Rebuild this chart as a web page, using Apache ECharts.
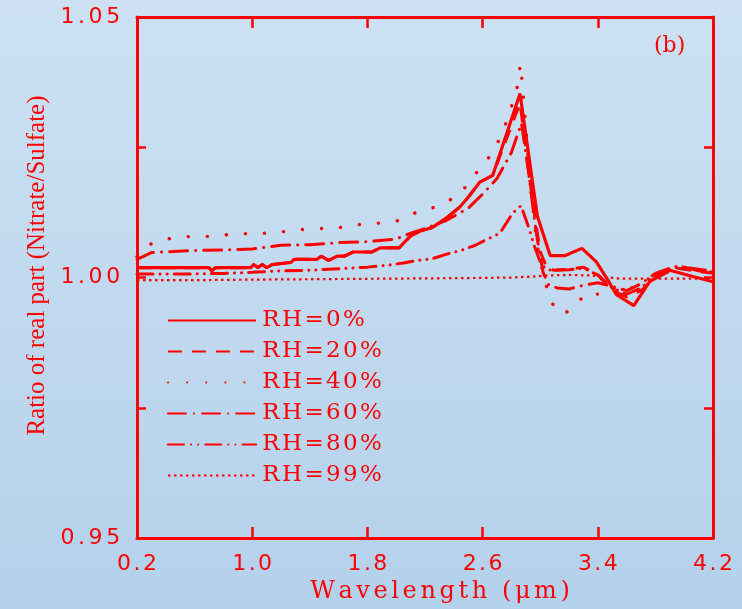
<!DOCTYPE html>
<html>
<head>
<meta charset="utf-8">
<script src="https://cdn.jsdelivr.net/npm/echarts@6/dist/echarts.min.js"></script>
<style>html,body{margin:0;padding:0;}#c{width:742px;height:609px;}</style>
</head>
<body>
<div id="c"></div>
<script>
const seriesNames = ['RH=0%','RH=20%','RH=40%','RH=60%','RH=80%','RH=99%'];
const xTicks = [0.2, 1.0, 1.8, 2.6, 3.4, 4.2];
const yTicks = [0.95, 0.975, 1.0, 1.025, 1.05];
const yLabels = [0.95, 1.0, 1.05];

const rh0X = [0.2,0.7,0.72,0.745,0.99,1.01,1.04,1.07,1.1,1.14,1.27,1.29,1.45,1.48,1.53,1.59,1.64,1.70,1.83,1.89,2.02,2.10,2.165,2.25,2.30,2.37,2.44,2.50,2.58,2.67,2.86,2.98,3.07,3.17,3.29,3.39,3.47,3.53,3.65,3.76,3.90,4.06,4.2];
const rh0Y = [1.0019,1.0019,1.0013,1.0019,1.0019,1.0025,1.0019,1.0025,1.0019,1.0025,1.0029,1.0035,1.0035,1.0041,1.0033,1.0041,1.0041,1.0049,1.0049,1.0057,1.0057,1.008,1.0089,1.0096,1.0105,1.0119,1.0135,1.0154,1.0183,1.0196,1.0353,1.0118,1.0042,1.0042,1.0056,1.003,0.9995,0.9967,0.9946,0.9992,1.0014,1.0002,0.9992];

const rh20X = [0.2,0.7,0.72,0.745,0.99,1.01,1.04,1.07,1.1,1.14,1.27,1.29,1.45,1.48,1.53,1.59,1.64,1.70,1.83,1.89,2.02,2.10,2.165,2.25,2.30,2.37,2.44,2.50,2.58,2.67,2.86,2.95,3.0,3.05,3.1,3.2,3.3,3.4,3.5,3.6,3.7,3.8,3.95,4.1,4.2];
const rh20Y = [1.0019,1.0019,1.0013,1.0019,1.0019,1.0025,1.0019,1.0025,1.0019,1.0025,1.0029,1.0035,1.0035,1.0041,1.0033,1.0041,1.0041,1.0049,1.0049,1.0057,1.0057,1.008,1.0089,1.0096,1.0105,1.0119,1.0135,1.0154,1.0183,1.0196,1.0335,1.014,1.005,1.0016,1.0014,1.0016,1.002,1.0005,0.9975,0.9963,0.9975,1.0,1.0018,1.0012,1.0008];

const rh40X = [0.2,0.28,0.43,0.57,0.72,0.85,1.0,1.14,1.29,1.43,1.57,1.71,1.86,2.0,2.14,2.28,2.43,2.5,2.56,2.63,2.69,2.725,2.76,2.785,2.82,2.84,2.85,2.864,2.89,2.93,2.98,3.03,3.08,3.16,3.23,3.32,3.45,3.55,3.65,3.75,3.85,3.98,4.1,4.2];
const rh40Y = [1.004,1.0063,1.0075,1.0079,1.0079,1.0083,1.0085,1.0085,1.0091,1.0094,1.0094,1.0101,1.0104,1.0108,1.0125,1.0136,1.0157,1.018,1.0202,1.0225,1.0249,1.0272,1.0295,1.0318,1.0342,1.0365,1.0388,1.041,1.0324,1.018,1.006,0.9995,0.9951,0.9929,0.9943,0.997,0.9967,0.9986,0.998,0.9995,1.0011,1.002,1.0014,1.0012];

const rh60X = [0.2,0.3,0.45,0.6,0.8,1.0,1.2,1.4,1.6,1.8,2.0,2.1,2.2,2.35,2.5,2.6,2.7,2.8,2.87,2.92,2.97,3.02,3.06,3.12,3.2,3.3,3.4,3.5,3.6,3.7,3.8,3.9,4.0,4.1,4.2];
const rh60Y = [1.0035,1.0048,1.005,1.0052,1.0053,1.0055,1.0062,1.0063,1.0067,1.0069,1.0074,1.0085,1.0094,1.011,1.0133,1.016,1.019,1.024,1.0296,1.02,1.009,1.001,0.9985,0.998,0.9978,0.9985,0.999,0.9983,0.9975,0.9988,1.0008,1.0018,1.002,1.0013,1.001];

const rh80X = [0.2,0.4,0.6,0.8,1.0,1.2,1.4,1.6,1.8,1.95,2.05,2.15,2.25,2.35,2.45,2.55,2.62,2.72,2.81,2.867,2.92,2.96,3.0,3.04,3.08,3.2,3.3,3.4,3.5,3.6,3.7,3.8,3.95,4.1,4.2];
const rh80Y = [1.0007,1.0007,1.0007,1.0008,1.001,1.0013,1.0014,1.0017,1.002,1.0024,1.0028,1.0033,1.0036,1.0045,1.0052,1.0062,1.0072,1.0085,1.0124,1.0138,1.0096,1.006,1.003,1.0016,1.0014,1.0015,1.0018,1.0005,0.998,0.9968,0.998,1.0005,1.0022,1.0016,1.0012];

const rh99X = [0.2,0.6,1.0,1.5,2.0,2.5,2.8,2.95,3.05,3.2,3.35,3.45,3.55,3.8,4.2];
const rh99Y = [0.9995,0.9995,0.9996,0.9997,0.9998,0.9999,1.0,1.0002,1.0004,1.0005,1.0004,1.0001,0.9998,0.9998,0.9998];

const RED = '#ff0000';
function pairs(xs, ys){ return xs.map((x,i)=>[x, ys[i]]); }
function spaced(str){ return str.split('').map(c => '{s|' + c + '}').join(''); }

const styles = [
  {width:3.2, type:'solid'},
  {width:3, type:[14,10]},
  {width:3.4, type:[0.1,19], cap:'round'},
  {width:3, type:[18,8,0.1,8], cap:'round'},
  {width:3, type:[16,7,0.1,7,0.1,7], cap:'round'},
  {width:2.2, type:[2.5,3.5]}
];
const allData = {0:pairs(rh0X,rh0Y),1:pairs(rh20X,rh20Y),2:pairs(rh40X,rh40Y),3:pairs(rh60X,rh60Y),4:pairs(rh80X,rh80Y),5:pairs(rh99X,rh99Y)};
const order = [1,0,2,3,4,5]; // RH=20 drawn beneath RH=0

const series = order.map(i => ({
  name: seriesNames[i],
  type: 'line',
  symbol: 'none',
  showSymbol: false,
  data: allData[i],
  lineStyle: Object.assign({color: RED}, styles[i]),
  itemStyle: {color: RED},
  z: i === 0 ? 5 : 3,
  animation: false
}));

const chart = echarts.init(document.getElementById('c'), null, {renderer:'canvas'});
const labelFont = {color: RED, fontSize: 22, fontFamily: 'DejaVu Sans'};
chart.setOption({
  animation: false,
  backgroundColor: {type:'linear', x:0, y:0, x2:0, y2:1, colorStops:[{offset:0,color:'#cde1f3'},{offset:1,color:'#b4d1eb'}]},
  grid: {left:137, right:29, top:17, bottom:61, containLabel:false},
  legend: {
    orient:'vertical', left:162, top:304,
    data: seriesNames,
    itemWidth: 88, itemHeight: 14, itemGap: 8,
    itemStyle: {color:'transparent', borderColor:'transparent', borderWidth:0, opacity:0},
    formatter: name => spaced(name),
    textStyle: {color: RED, fontSize: 23, fontFamily: 'DejaVu Serif',
      rich: {s: {color: RED, fontSize: 23, fontFamily: 'DejaVu Serif', padding:[0,1.2,0,1.2], lineHeight:22}}},
    selectedMode: false
  },
  xAxis: [
    {type:'value', min:0.2, max:4.2, position:'bottom',
     axisLine:{show:true, onZero:false, lineStyle:{color:RED, width:3}},
     axisTick:{show:true, inside:true, length:11, customValues:xTicks, lineStyle:{color:RED, width:2.5}},
     axisLabel:{show:true, customValues:xTicks, margin:15, formatter:v=>spaced(v.toFixed(1)),
       ...labelFont, rich:{s:{...labelFont, padding:[0,1.2,0,1.2]}}},
     splitLine:{show:false},
     name:spaced('Wavelength (μm)'), nameLocation:'middle', nameGap:40,
     nameTextStyle:{color:RED, fontSize:24, fontFamily:'DejaVu Serif', padding:[0,0,0,30],
       rich:{s:{color:RED, fontSize:24, fontFamily:'DejaVu Serif', padding:[0,1.8,0,1.8]}}}},
    {type:'value', min:0.2, max:4.2, position:'top',
     axisLine:{show:true, onZero:false, lineStyle:{color:RED, width:3}},
     axisTick:{show:true, inside:true, length:11, customValues:xTicks, lineStyle:{color:RED, width:2.5}},
     axisLabel:{show:false}, splitLine:{show:false}}
  ],
  yAxis: [
    {type:'value', min:0.95, max:1.05, position:'left',
     axisLine:{show:true, onZero:false, lineStyle:{color:RED, width:3}},
     axisTick:{show:true, inside:true, length:9, customValues:yTicks, lineStyle:{color:RED, width:2.5}},
     axisLabel:{show:true, customValues:yLabels, margin:15, formatter:v=>spaced(v.toFixed(2)),
       ...labelFont, rich:{s:{...labelFont, padding:[0,1.8,0,1.8]}}},
     splitLine:{show:false},
     name:'Ratio of real part (Nitrate/Sulfate)', nameLocation:'middle', nameGap:86,
     nameTextStyle:{color:RED, fontSize:25, fontFamily:'Liberation Serif', padding:[0,0,0,24]}},
    {type:'value', min:0.95, max:1.05, position:'right',
     axisLine:{show:true, onZero:false, lineStyle:{color:RED, width:3}},
     axisTick:{show:true, inside:true, length:9, customValues:yTicks, lineStyle:{color:RED, width:2.5}},
     axisLabel:{show:false}, splitLine:{show:false}}
  ],
  graphic: [
    {type:'text', left:654, top:35, style:{text:'(b)', fill:RED, font:'22px "DejaVu Serif"'}}
  ],
  series: series
});
</script>
</body>
</html>
